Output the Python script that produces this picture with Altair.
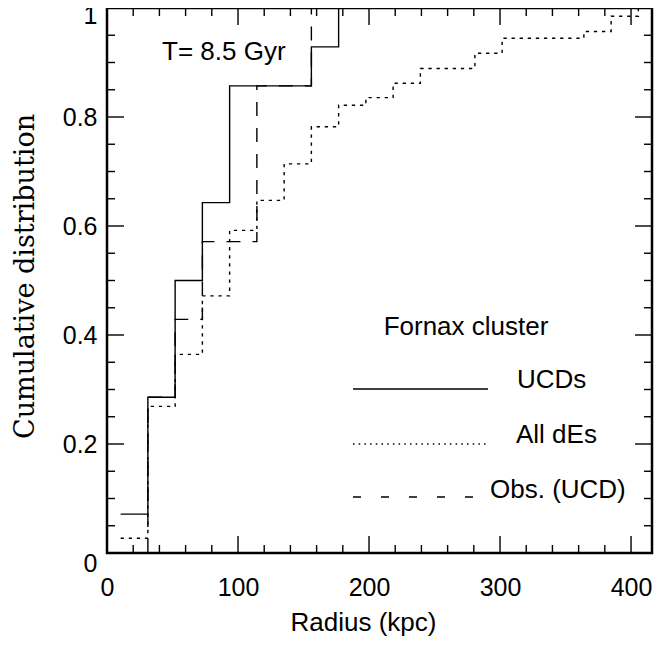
import altair as alt
import pandas as pd

# ---- data ----
ucd_x = [10.4, 31.2, 52.0, 72.8, 93.6, 156.0, 176.8]
ucd_y = [0.0714, 0.2857, 0.5, 0.6429, 0.8571, 0.9286, 1.0]

obs_x = [31.2, 31.2, 52.0, 72.8, 114.4, 156.0]
obs_y = [0.0, 0.2857, 0.4286, 0.5714, 0.8571, 1.0]

des_x = [10.4, 31.2, 52.0, 72.8, 93.6, 114.4, 135.2, 156.0, 176.8, 197.6,
         218.4, 239.2, 280.8, 301.6, 364.0, 384.8, 405.6]
des_y = [0.027, 0.269, 0.3645, 0.4717, 0.592, 0.647, 0.714, 0.782, 0.8215,
         0.8355, 0.862, 0.889, 0.917, 0.9446, 0.957, 0.985, 1.0]

x_labels = [0, 100, 200, 300, 400]
y_labels = [0, 0.2, 0.4, 0.6, 0.8, 1]
x_major = [100, 200, 300, 400]
x_minor = [20, 40, 60, 80, 120, 140, 160, 180, 220, 240, 260, 280,
           320, 340, 360, 380]
y_major = [0.2, 0.4, 0.6, 0.8]
y_minor = [0.05, 0.1, 0.15, 0.25, 0.3, 0.35, 0.45, 0.5, 0.55, 0.65, 0.7,
           0.75, 0.85, 0.9, 0.95]

W, H = 545, 545
FONT = "Liberation Sans"

xscale = alt.Scale(domain=[0, 416], nice=False, zero=False)
yscale = alt.Scale(domain=[0, 1], nice=False, zero=False)

xaxis = alt.Axis(
    values=x_labels, ticks=False, domain=False, grid=False,
    labelFontSize=25, labelFont=FONT, labelColor="black",
    labelPadding=22, labelFlush=False, labelOverlap=False,
    title="Radius (kpc)", titleFont=FONT, titleFontSize=26,
    titleFontWeight="normal", titleColor="black",
    titleX=256, titleY=77, titleBaseline="alphabetic", titleAlign="center")
yaxis = alt.Axis(
    values=y_labels, format="~g", ticks=False, domain=False,
    grid=False, labelFontSize=25, labelFont=FONT,
    labelColor="black", labelPadding=10, labelFlush=False,
    labelOverlap=False,
    labelOffset={"condition": [{"test": "datum.value == 0", "value": 10},
                               {"test": "datum.value == 1", "value": 7}],
                 "value": 0},
    title="Cumulative distribution", titleFont="DejaVu Serif",
    titleFontSize=27, titleFontWeight="normal", titleColor="black",
    titleAngle=-90, titleX=-74, titleY=268,
    titleBaseline="alphabetic", titleAlign="center")

XE = dict(scale=xscale, axis=xaxis)
YE = dict(scale=yscale, axis=yaxis)


def series_df(xs, ys):
    return pd.DataFrame({"x": xs, "y": ys, "i": list(range(len(xs)))})


def step(df, dash):
    kw = dict(interpolate="step-after", color="black", strokeWidth=1.4)
    if dash:
        kw["strokeDash"] = dash
    return alt.Chart(df).mark_line(**kw).encode(
        x=alt.X("x:Q", **XE), y=alt.Y("y:Q", **YE), order="i:Q")


solid = step(series_df(ucd_x, ucd_y), None)
dotted = step(series_df(des_x, des_y), [3.3, 4.8])
dashed = step(series_df(obs_x, obs_y), [14, 12])

tick_style = dict(color="black", strokeWidth=1.4)


def xticks(vals, length):
    df = pd.DataFrame({"x": vals})
    ax = alt.X("x:Q", **XE)
    bot = alt.Chart(df).mark_rule(**tick_style).encode(
        x=ax, y=alt.value(H), y2=alt.value(H - length))
    top = alt.Chart(df).mark_rule(**tick_style).encode(
        x=ax, y=alt.value(0), y2=alt.value(length))
    return [bot, top]


def yticks(vals, length):
    df = pd.DataFrame({"y": vals})
    ay = alt.Y("y:Q", **YE)
    left = alt.Chart(df).mark_rule(**tick_style).encode(
        y=ay, x=alt.value(0), x2=alt.value(length))
    right = alt.Chart(df).mark_rule(**tick_style).encode(
        y=ay, x=alt.value(W), x2=alt.value(W - length))
    return [left, right]


ticks = (xticks(x_major, 17) + xticks(x_minor, 8)
         + yticks(y_major, 17) + yticks(y_minor, 8))

anno = pd.DataFrame({"t": [0]})


def text(s, x, y, align="left"):
    return alt.Chart(anno).mark_text(
        text=s, font=FONT, fontSize=26, color="black", align=align,
        baseline="alphabetic").encode(x=alt.value(x), y=alt.value(y))


def legline(x1, x2, y, dash):
    kw = dict(color="black", strokeWidth=1.4)
    if dash:
        kw["strokeDash"] = dash
    return alt.Chart(anno).mark_rule(**kw).encode(
        x=alt.value(x1), x2=alt.value(x2), y=alt.value(y))


labels = [
    text("T= 8.5 Gyr", 55, 52),
    text("Fornax cluster", 359, 327, align="center"),
    legline(246, 381, 381, None),
    text("UCDs", 410, 380),
    legline(246, 381, 436, [1.5, 4.2]),
    text("All dEs", 409, 435),
    legline(246, 367, 489, [8, 20]),
    text("Obs. (UCD)", 383, 490),
]

chart = alt.layer(solid, dotted, dashed, *ticks, *labels).properties(
    width=W, height=H,
    background="white",
    autosize=alt.AutoSizeParams(type="none"),
    padding={"left": 99, "top": 0, "right": 10, "bottom": 84},
).configure_view(stroke="black", strokeWidth=2.5)

chart.save("out.html", embed_options={"renderer": "svg", "actions": False})
